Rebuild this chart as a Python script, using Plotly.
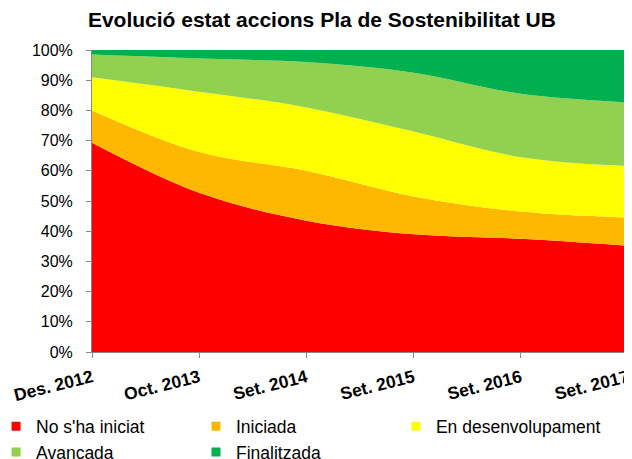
import plotly.graph_objects as go

categories = ["Des. 2012", "Oct. 2013", "Set. 2014", "Set. 2015", "Set. 2016", "Set. 2017"]
no_iniciat = [69.3, 52.7, 43.5, 39.0, 37.5, 35.2]
iniciada = [10.7, 13.5, 16.5, 12.5, 9.0, 9.3]
en_desenvolupament = [11.0, 20.0, 21.0, 21.5, 18.0, 17.1]
avancada = [7.5, 11.0, 15.0, 19.5, 21.0, 21.0]
finalitzada = [1.5, 2.8, 4.0, 7.5, 14.5, 17.4]

series = [
    ("No s'ha iniciat", no_iniciat, "#FF0000", "legend"),
    ("Iniciada", iniciada, "#FFB800", "legend2"),
    ("En desenvolupament", en_desenvolupament, "#FFFF00", "legend3"),
    ("Avancada", avancada, "#92D050", "legend"),
    ("Finalitzada", finalitzada, "#00B050", "legend2"),
]

x = list(range(len(categories)))
fig = go.Figure()
for name, vals, color, leg in series:
    fig.add_trace(go.Scatter(
        x=x, y=vals, name=name, mode="lines", stackgroup="one",
        line=dict(width=0, color=color), fillcolor=color,
        line_shape="spline", legendgroup=name, showlegend=False,
    ))
# legend-only entries (square markers, no data drawn)
for name, vals, color, leg in series:
    fig.add_trace(go.Scatter(
        x=[None], y=[None], name=name, mode="markers",
        marker=dict(symbol="square", size=9, color=color),
        legendgroup=name, legend=leg, showlegend=True,
    ))

legend_common = dict(orientation="v", yanchor="top", xanchor="left",
                     font=dict(size=17.5, color="#000000"), bgcolor="rgba(0,0,0,0)",
                     tracegroupgap=0, itemwidth=30)

fig.update_layout(
    width=624, height=451,
    margin=dict(l=84, r=4, t=42, b=107, autoexpand=False),
    paper_bgcolor="white", plot_bgcolor="white",
    font=dict(family="Liberation Sans, Arial, sans-serif", size=14, color="#000000"),
    title=dict(text="<b>Evolució estat accions Pla de Sostenibilitat UB</b>",
               x=0.503, xanchor="center", y=0.9734, yanchor="middle",
               font=dict(size=21, color="#000000")),
    xaxis=dict(range=[0, 5], tickvals=x, ticktext=["<b>%s</b>" % c for c in categories],
               tickangle=-14, showgrid=False, zeroline=False,
               showline=True, linecolor="#888888", linewidth=1,
               ticks="outside", ticklen=5, tickcolor="#888888",
               ticklabelstandoff=3,
               tickfont=dict(size=17.5)),
    yaxis=dict(range=[0, 100], tickvals=list(range(0, 101, 10)),
               ticktext=["%d%%" % v for v in range(0, 101, 10)],
               showgrid=False, zeroline=False,
               showline=True, linecolor="#888888", linewidth=1,
               ticks="outside", ticklen=5, tickcolor="#888888",
               ticklabelstandoff=10,
               tickfont=dict(size=16)),
    legend=dict(x=-0.179, y=-0.187, **legend_common),
    legend2=dict(x=0.194, y=-0.187, **legend_common),
    legend3=dict(x=0.567, y=-0.187, **legend_common),
    showlegend=True,
)

fig.write_html("out.html")
